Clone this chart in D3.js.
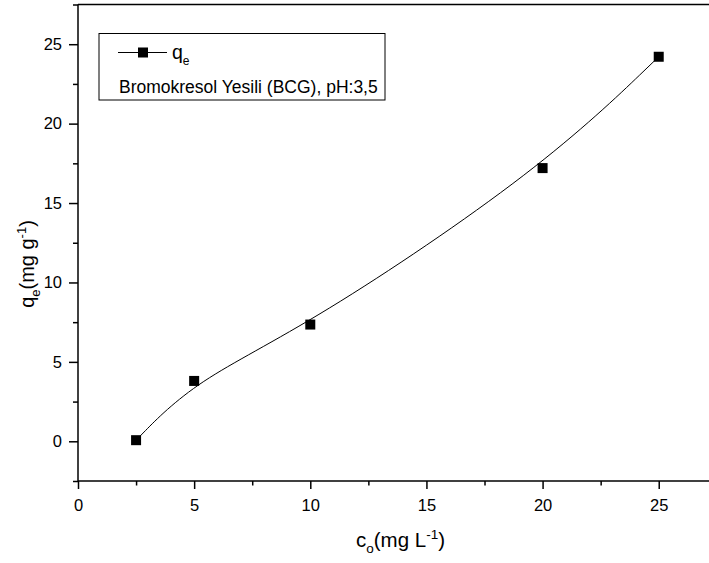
<!DOCTYPE html>
<html>
<head>
<meta charset="utf-8">
<script src="https://cdn.jsdelivr.net/npm/d3@7"></script>
<style>
  html, body { margin: 0; padding: 0; background: #fff; }
  svg { display: block; font-family: "Liberation Sans", Arial, sans-serif; }
</style>
</head>
<body>
<svg id="chart" width="709" height="563"></svg>
<script>
// Initial dye concentration (mg/L) and adsorbed amount q_e (mg/g)
const concentrations = [2.5, 5, 10, 20, 25];
const qeValues = [0.07, 3.8, 7.35, 17.2, 24.21];

const xMajorTicks = [0, 5, 10, 15, 20, 25];
const xMinorTicks = [2.5, 7.5, 12.5, 17.5, 22.5, 27.5];
const yMajorTicks = [0, 5, 10, 15, 20, 25];
const yMinorTicks = [-2.5, 2.5, 7.5, 12.5, 17.5, 22.5, 27.5];

const seriesName = "q";
const seriesSub = "e";
const legendNote = "Bromokresol Yesili (BCG), pH:3,5";

const FONT = "'Liberation Sans', Arial, sans-serif";
const svg = d3.select("#chart");
const margin = { left: 78, top: 4.5, bottom: 481 };
const xRight = 716.8;

const x = d3.scaleLinear().domain([0, 27.5]).range([margin.left, xRight]);
const y = d3.scaleLinear().domain([-2.5, 27.5]).range([margin.bottom, margin.top]);

const axisColor = "#000";

// top frame line
svg.append("line")
  .attr("x1", x(0)).attr("x2", xRight)
  .attr("y1", y(27.5)).attr("y2", y(27.5))
  .attr("stroke", axisColor).attr("stroke-width", 1.5);

// x axis: major ticks with labels, then minor ticks
const xAxis = svg.append("g")
  .attr("transform", `translate(0,${y(-2.5)})`)
  .call(d3.axisBottom(x).tickValues(xMajorTicks).tickSize(8).tickPadding(10).tickFormat(d3.format("d")));
svg.append("g")
  .attr("transform", `translate(0,${y(-2.5)})`)
  .call(d3.axisBottom(x).tickValues(xMinorTicks).tickSize(4.5).tickFormat(""))
  .call(g => g.select(".domain").remove());

// y axis
const yAxis = svg.append("g")
  .attr("transform", `translate(${x(0)},0)`)
  .call(d3.axisLeft(y).tickValues(yMajorTicks).tickSize(9).tickPadding(7).tickFormat(d3.format("d")));
svg.append("g")
  .attr("transform", `translate(${x(0)},0)`)
  .call(d3.axisLeft(y).tickValues(yMinorTicks).tickSize(5).tickFormat(""))
  .call(g => g.select(".domain").remove());

svg.selectAll("g").attr("font-family", FONT);
svg.selectAll(".domain").attr("stroke-width", 1.5).attr("stroke", axisColor);
svg.selectAll(".tick line").attr("stroke-width", 1.5).attr("stroke", axisColor);
svg.selectAll(".tick text")
  .attr("font-size", 16.5)
  .attr("fill", "#000");
// extend axis lines across the full plot frame
xAxis.select(".domain").attr("d", `M${x(0)},0H${xRight}`);
yAxis.select(".domain").attr("d", `M0,${y(-2.5)}V${y(27.5)}`);

// smoothed curve through the data
const pts = concentrations.map((c, i) => [c, qeValues[i]]);
const line = d3.line().x(d => x(d[0])).y(d => y(d[1])).curve(d3.curveBasis);
svg.append("path")
  .datum(pts)
  .attr("d", line)
  .attr("fill", "none")
  .attr("stroke", "#000")
  .attr("stroke-width", 1);

// square markers
const sq = 10;
svg.selectAll("rect.pt")
  .data(pts)
  .enter().append("rect")
  .attr("class", "pt")
  .attr("x", d => x(d[0]) - sq / 2)
  .attr("y", d => y(d[1]) - sq / 2)
  .attr("width", sq).attr("height", sq)
  .attr("fill", "#000");

// axis titles
const xTitle = svg.append("text")
  .attr("x", 400.5).attr("y", 547)
  .attr("text-anchor", "middle")
  .attr("font-family", FONT)
  .attr("font-size", 20.5);
xTitle.append("tspan").text("c");
xTitle.append("tspan").attr("font-size", 13.5).attr("dy", 6).text("o");
xTitle.append("tspan").attr("dy", -6).text("(mg L");
xTitle.append("tspan").attr("font-size", 13.5).attr("dy", -8).text("-1");
xTitle.append("tspan").attr("dy", 8).text(")");

const yTitle = svg.append("text")
  .attr("transform", "translate(34,264) rotate(-90)")
  .attr("text-anchor", "middle")
  .attr("font-family", FONT)
  .attr("font-size", 20);
yTitle.append("tspan").text("q");
yTitle.append("tspan").attr("font-size", 13).attr("dy", 6).text("e");
yTitle.append("tspan").attr("dy", -6).text("(mg g");
yTitle.append("tspan").attr("font-size", 13).attr("dy", -8).text("-1");
yTitle.append("tspan").attr("dy", 8).text(")");

// legend
const legend = svg.append("g").attr("font-family", FONT);
legend.append("rect")
  .attr("x", 99).attr("y", 33.5)
  .attr("width", 286).attr("height", 66.5)
  .attr("fill", "#fff").attr("stroke", "#000").attr("stroke-width", 1);
legend.append("line")
  .attr("x1", 118).attr("x2", 167).attr("y1", 52.5).attr("y2", 52.5)
  .attr("stroke", "#000").attr("stroke-width", 1);
legend.append("rect")
  .attr("x", 143 - sq / 2).attr("y", 52.5 - sq / 2)
  .attr("width", sq).attr("height", sq).attr("fill", "#000");
const lt = legend.append("text").attr("x", 172).attr("y", 59).attr("font-size", 19.5);
lt.append("tspan").text(seriesName);
lt.append("tspan").attr("font-size", 12).attr("dy", 6).text(seriesSub);
legend.append("text")
  .attr("x", 119).attr("y", 93)
  .attr("font-size", 17.5)
  .text(legendNote);
</script>
</body>
</html>
